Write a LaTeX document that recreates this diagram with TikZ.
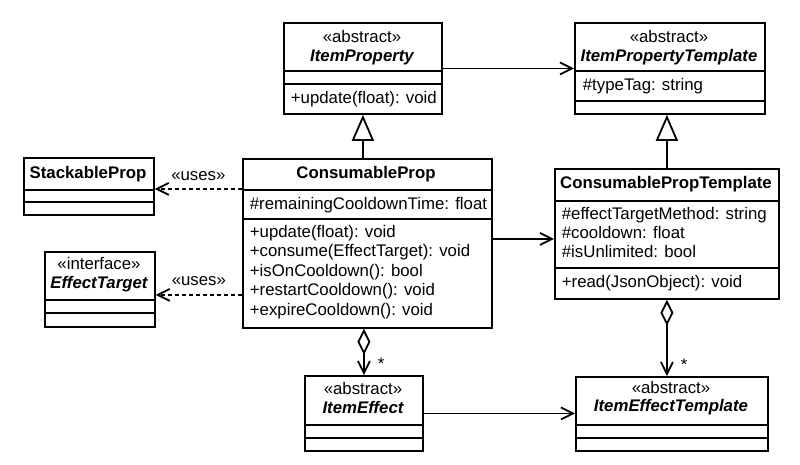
\documentclass[tikz,border=0pt]{standalone}
\usepackage{fontspec}
\setmainfont{Liberation Sans}
\usetikzlibrary{arrows.meta}

\begin{document}
\begin{tikzpicture}[x=1pt,y=-1pt,line width=1.8pt,
  box/.style={draw,fill=white,inner sep=0,anchor=north west},
  member/.style={anchor=mid west,inner sep=0},
  stereo/.style={anchor=mid,inner sep=0},
  cname/.style={anchor=mid,inner sep=0,font=\bfseries},
  aname/.style={anchor=mid,inner sep=0,font=\bfseries\itshape},
  assoc/.style={-{Straight Barb[length=12pt,width=12pt]}},
  uses/.style={dash pattern=on 4pt off 3pt,-{Straight Barb[length=12pt,width=12pt]}},
  inherit/.style={-{Triangle[open,fill=white,length=26pt,width=22pt]}},
  aggr/.style={arrows={{Diamond[open,fill=white,length=26pt,width=13pt]}-{Straight Barb[length=12pt,width=12pt]}}}]
\fontsize{16.8}{19}\selectfont
\useasboundingbox (0,0) rectangle (800,464);

% ItemProperty
\node[box,minimum width=158pt,minimum height=91pt] (itemprop) at (283,22) {};
\draw (283,71) -- (441,71);
\draw (283,84) -- (441,84);
\node[stereo] (itemprop-st) at (362,38) {«abstract»};
\node[aname] (itemprop-nm) at (362,57) {ItemProperty};
\node[member] (itemprop-op) at (290,99) {+update(float): void};

% ItemPropertyTemplate
\node[box,minimum width=190pt,minimum height=91pt] (itemproptpl) at (574,22) {};
\draw (574,71) -- (764,71);
\draw (574,101) -- (764,101);
\node[stereo] (itemproptpl-st) at (669,38) {«abstract»};
\node[aname] (itemproptpl-nm) at (669,57) {ItemPropertyTemplate};
\node[member] (itemproptpl-at) at (582,86) {\#typeTag: string};

% StackableProp
\node[box,minimum width=130pt,minimum height=57pt] (stackable) at (23,157) {};
\draw (23,190) -- (153,190);
\draw (23,202) -- (153,202);
\node[cname] (stackable-nm) at (88,174) {StackableProp};

% EffectTarget
\node[box,minimum width=110pt,minimum height=75pt] (effecttarget) at (44,251) {};
\draw (44,300) -- (154,300);
\draw (44,313) -- (154,313);
\node[stereo] (effecttarget-st) at (99,265) {«interface»};
\node[aname] (effecttarget-nm) at (99,284) {EffectTarget};

% ConsumableProp
\node[box,minimum width=249pt,minimum height=169pt] (consprop) at (242,158) {};
\draw (242,190) -- (491,190);
\draw (242,219) -- (491,219);
\node[cname] (consprop-nm) at (366,174) {ConsumableProp};
\node[member] (consprop-at) at (249,205) {\#remainingCooldownTime: float};
\node[member] (consprop-op1) at (249,233) {+update(float): void};
\node[member] (consprop-op2) at (249,252.5) {+consume(EffectTarget): void};
\node[member] (consprop-op3) at (249,272) {+isOnCooldown(): bool};
\node[member] (consprop-op4) at (249,291.5) {+restartCooldown(): void};
\node[member] (consprop-op5) at (249,311) {+expireCooldown(): void};

% ConsumablePropTemplate
\node[box,minimum width=224pt,minimum height=130pt] (consproptpl) at (554,168) {};
\draw (554,201) -- (778,201);
\draw (554,268) -- (778,268);
\node[cname] (consproptpl-nm) at (666,184) {ConsumablePropTemplate};
\node[member] (consproptpl-at1) at (561,215) {\#effectTargetMethod: string};
\node[member] (consproptpl-at2) at (561,234) {\#cooldown: float};
\node[member] (consproptpl-at3) at (561,253) {\#isUnlimited: bool};
\node[member] (consproptpl-op) at (561,283) {+read(JsonObject): void};

% ItemEffect
\node[box,minimum width=118pt,minimum height=75pt] (itemeffect) at (304,375) {};
\draw (304,425) -- (422,425);
\draw (304,438) -- (422,438);
\node[stereo] (itemeffect-st) at (363,390) {«abstract»};
\node[aname] (itemeffect-nm) at (363,409) {ItemEffect};

% ItemEffectTemplate
\node[box,minimum width=192pt,minimum height=74pt] (itemeffecttpl) at (575,376) {};
\draw (575,425) -- (767,425);
\draw (575,438) -- (767,438);
\node[stereo] (itemeffecttpl-st) at (671,389) {«abstract»};
\node[aname] (itemeffecttpl-nm) at (671,407) {ItemEffectTemplate};

% relations
\coordinate (u1) at ([yshift=-2.5pt]stackable.east);
\coordinate (u2) at ([yshift=-5.5pt]effecttarget.east);
\coordinate (c1) at ([yshift=4.5pt]consprop.east);

\draw[assoc] (itemprop.east) -- (itemprop.east -| itemproptpl.west);
\draw[inherit] (itemprop.south |- consprop.north) -- (itemprop.south);
\draw[inherit] (consproptpl.north) -- (consproptpl.north |- itemproptpl.south);
\draw[uses] (u1 -| consprop.west) -- (u1) node[midway,anchor=mid,inner sep=0,yshift=13pt] {«uses»};
\draw[uses] (u2 -| consprop.west) -- (u2) node[midway,anchor=mid,inner sep=0,yshift=14pt] {«uses»};
\draw[assoc] (c1) -- (c1 -| consproptpl.west);
\draw[aggr] (itemeffect.north |- consprop.south) -- (itemeffect.north) node[at end,anchor=base west,inner sep=0,xshift=13pt,yshift=6pt] {*};
\draw[aggr] (consproptpl.south) -- (consproptpl.south |- itemeffecttpl.north) node[at end,anchor=base west,inner sep=0,xshift=13pt,yshift=6pt] {*};
\draw[assoc] (itemeffect.east) -- (itemeffect.east -| itemeffecttpl.west);
\end{tikzpicture}
\end{document}
